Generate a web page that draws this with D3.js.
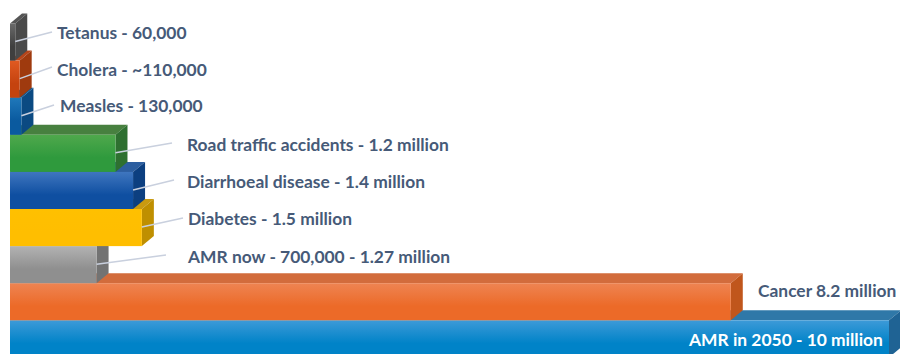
<!DOCTYPE html>
<html>
<head>
<meta charset="utf-8">
<script src="https://cdn.jsdelivr.net/npm/d3@7"></script>
<style>
  html, body { margin: 0; padding: 0; background: #fff; }
  svg { display: block; }
  text { font-family: Lato, "Open Sans", sans-serif; font-weight: 700; font-size: 17.4px; }
</style>
</head>
<body>
<div id="chart"></div>
<script>
// Annual deaths by cause, in millions
const causes = ["Tetanus", "Cholera", "Measles", "Road traffic accidents", "Diarrhoeal disease", "Diabetes", "AMR now", "Cancer", "AMR in 2050"];
const deaths = [0.06, 0.11, 0.13, 1.2, 1.4, 1.5, 0.985, 8.2, 10];
const labels = [
  "Tetanus - 60,000", "Cholera - ~110,000", "Measles - 130,000",
  "Road traffic accidents - 1.2 million", "Diarrhoeal disease - 1.4 million",
  "Diabetes - 1.5 million", "AMR now - 700,000 - 1.27 million",
  "Cancer 8.2 million", "AMR in 2050 - 10 million"
];

// Face colours of each bar
const frontLight = ["#6a6a6a", "#e05a22", "#1f78ba", "#4fa84c", "#3f76bf", "#ffc000", "#b2b2b2", "#ee8452", "#3d9ad8"];
const frontDark  = ["#3f3f3f", "#c5430f", "#0a5a9f", "#2f9a3d", "#0f4fa1", "#ffbe00", "#8f8f8f", "#ec6a28", "#0083c8"];
const topFace    = ["#555555", "#b5451a", "#0f5a94", "#47803f", "#2c5ea0", "#c99a10", "#8a8a8a", "#d26c3c", "#2f78a8"];
const sideFace   = ["#4a4a4a", "#9f3a0e", "#0b4a82", "#2e7030", "#0c3f80", "#bf8f00", "#737373", "#c0561c", "#1f6394"];

// Label placement and the far end of each leader line
const labelX    = [57, 57, 60, 187, 187, 188, 188, 758, 689];
const labelY    = [39, 76, 112, 150.5, 187.5, 225, 262.5, 297, 346];
const leaderEnd = [[52, 32], [52, 67], [54, 105], [172, 143], [174, 180], [183, 218], [166, 255], null, null];

const width = 900, height = 354;
const depthX = 12, depthY = 10;

const x = d3.scaleLinear().domain([0, 10]).range([10, 889]);
const y = d3.scaleBand().domain(causes).range([23.5, 357.4]);

const svg = d3.select("#chart").append("svg")
  .attr("width", width).attr("height", height);

const defs = svg.append("defs");
causes.forEach((c, i) => {
  const g = defs.append("linearGradient")
    .attr("id", "front" + i).attr("x1", 0).attr("y1", 0).attr("x2", 0).attr("y2", 1);
  g.append("stop").attr("offset", "0%").attr("stop-color", frontLight[i]);
  g.append("stop").attr("offset", "62%").attr("stop-color", frontDark[i]);
  g.append("stop").attr("offset", "100%").attr("stop-color", frontDark[i]);
});

const outline = d3.line();

// Lower bars go first so that each bar sits on the top face of the one below it
const order = d3.range(causes.length).reverse();
const bars = svg.selectAll("g.bar").data(order).join("g").attr("class", "bar");

bars.append("path")
  .attr("fill", i => topFace[i])
  .attr("d", i => {
    const t = y(causes[i]), r = x(deaths[i]), l = x(0);
    return outline([[l, t], [r, t], [r + depthX, t - depthY], [l + depthX, t - depthY]]) + "Z";
  });

bars.append("path")
  .attr("fill", i => sideFace[i])
  .attr("d", i => {
    const t = y(causes[i]), b = t + y.bandwidth(), r = x(deaths[i]);
    return outline([[r, t], [r + depthX, t - depthY], [r + depthX, b - depthY], [r, b]]) + "Z";
  });

bars.append("rect")
  .attr("x", x(0))
  .attr("y", i => y(causes[i]))
  .attr("width", i => x(deaths[i]) - x(0))
  .attr("height", y.bandwidth())
  .attr("fill", i => `url(#front${i})`);

// Leader lines run from the bar's side face to its label
svg.selectAll("path.leader")
  .data(d3.range(causes.length).filter(i => leaderEnd[i]))
  .join("path")
  .attr("class", "leader")
  .attr("fill", "none")
  .attr("stroke", "#c9d0de")
  .attr("stroke-width", 1.5)
  .attr("d", i => outline([[x(deaths[i]), y(causes[i]) + y.bandwidth() / 2 - 0.5], leaderEnd[i]]));

svg.selectAll("text.label")
  .data(labels)
  .join("text")
  .attr("class", "label")
  .attr("x", (d, i) => labelX[i])
  .attr("y", (d, i) => labelY[i])
  .attr("fill", (d, i) => i === labels.length - 1 ? "#ffffff" : "#465a78")
  .text(d => d);
</script>
</body>
</html>
